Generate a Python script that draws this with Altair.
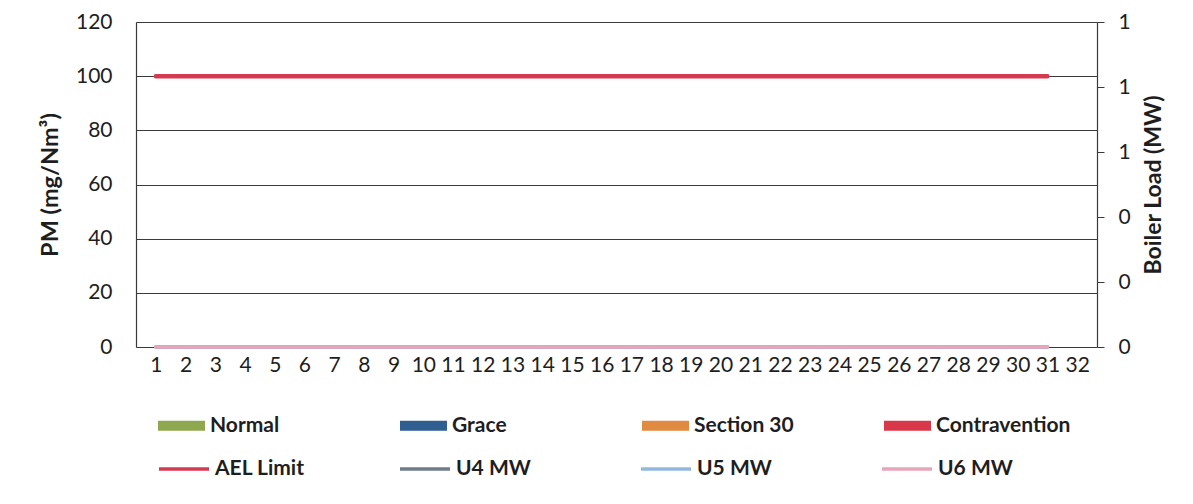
import altair as alt
import pandas as pd

# ---- data ----
days = list(range(1, 32))
x_tick_values = list(range(1, 33))
pm_status = ["Normal", "Grace", "Section 30", "Contravention"]
pm_colors = ["#8fa84f", "#2f5f91", "#e08a42", "#d9384a"]
pm_values = [None] * 31          # no PM bars are drawn in the reference
ael_limit = [100] * 31
u4_mw = [0] * 31
u5_mw = [0] * 31
u6_mw = [0] * 31
line_series = ["AEL Limit", "U4 MW", "U5 MW", "U6 MW"]
line_colors = ["#d63a50", "#6f7d88", "#92b8e0", "#e8a6ba"]
left_ticks = [0, 20, 40, 60, 80, 100, 120]
right_ticks = [0, 0.2, 0.4, 0.6, 0.8, 1.0]

FONT = "Lato"
TXT = "#1e1e1e"
GRID = "#3a3a3a"

bar_df = pd.DataFrame({"day": days, "status": ["Normal"] * 31, "pm": pm_values})
ael_df = pd.DataFrame({"day": days, "series": "AEL Limit", "value": ael_limit})
mw_df = pd.concat([
    pd.DataFrame({"day": days, "series": "U4 MW", "value": u4_mw}),
    pd.DataFrame({"day": days, "series": "U5 MW", "value": u5_mw}),
    pd.DataFrame({"day": days, "series": "U6 MW", "value": u6_mw}),
])

x_enc = alt.X("day:Q",
              scale=alt.Scale(domain=[0.5, 32.5], nice=False, zero=False),
              axis=alt.Axis(values=x_tick_values, format="d", title=None, grid=False,
                            ticks=False, tickSize=0, labelPadding=7, domain=False,
                            labelFont=FONT, labelFontSize=21, labelColor=TXT,
                            labelFlush=False))

left_axis = alt.Axis(values=left_ticks, title="PM (mg/Nm³)", grid=True, gridColor=GRID,
                     gridWidth=1, ticks=False, tickSize=0, labelPadding=24,
                     domainColor=GRID, domainWidth=1.2,
                     labelFont=FONT, labelFontSize=21, labelColor=TXT,
                     titleFont=FONT, titleFontSize=23.5, titleFontWeight="bold",
                     titleColor=TXT, titlePadding=13)
left_scale = alt.Scale(domain=[0, 120], nice=False)

stroke_enc = alt.Stroke("series:N",
                        scale=alt.Scale(domain=line_series, range=line_colors),
                        legend=alt.Legend(orient="none", legendX=21, legendY=420,
                                          direction="horizontal", columns=4,
                                          gridAlign="all", columnPadding=88,
                                          symbolType="stroke", symbolSize=2500,
                                          symbolStrokeWidth=3.5, labelOffset=4,
                                          labelFont=FONT, labelFontSize=21,
                                          labelFontWeight="bold", labelColor=TXT,
                                          title=None))

bars = alt.Chart(bar_df).mark_bar().encode(
    x=x_enc,
    y=alt.Y("pm:Q", scale=left_scale, axis=left_axis),
    fill=alt.Fill("status:N",
                  scale=alt.Scale(domain=pm_status, range=pm_colors),
                  legend=alt.Legend(orient="none", legendX=22, legendY=380,
                                    direction="horizontal", columns=4,
                                    gridAlign="all", columnPadding=55,
                                    symbolType="M-1,-0.21H1V0.21H-1Z",
                                    symbolSize=2209, symbolStrokeWidth=0,
                                    labelOffset=5, labelFont=FONT, labelFontSize=21,
                                    labelFontWeight="bold", labelColor=TXT,
                                    title=None)),
)

ael = alt.Chart(ael_df).mark_line(strokeWidth=4.5, strokeCap="round").encode(
    x=x_enc,
    y=alt.Y("value:Q", scale=left_scale, axis=left_axis),
    stroke=stroke_enc,
)

mw = alt.Chart(mw_df).mark_line(strokeWidth=3.5, strokeCap="round").encode(
    x=x_enc,
    y=alt.Y("value:Q", scale=alt.Scale(domain=[0, 1], nice=False),
            axis=alt.Axis(orient="right", values=right_ticks, format=".0f",
                          title="Boiler Load (MW)", grid=False, ticks=True,
                          tickSize=7, tickColor=GRID, labelPadding=14,
                          domainColor=GRID, domainWidth=1.2,
                          labelFont=FONT, labelFontSize=21, labelColor=TXT,
                          titleFont=FONT, titleFontSize=23, titleFontWeight="bold",
                          titleColor=TXT, titlePadding=12, titleAngle=270,
                          titleBaseline="top")),
    stroke=stroke_enc,
    order=alt.Order("series:N"),
)

left = alt.layer(bars, ael)
chart = alt.layer(left, mw).resolve_scale(y="independent").properties(
    width=961, height=325,
    autosize=alt.AutoSizeParams(type="none"),
    padding={"left": 128, "top": 14, "right": 85, "bottom": 145},
).configure_view(stroke=None).configure(background="white")

chart.save("out.html", embed_options={"renderer": "svg", "actions": False})
